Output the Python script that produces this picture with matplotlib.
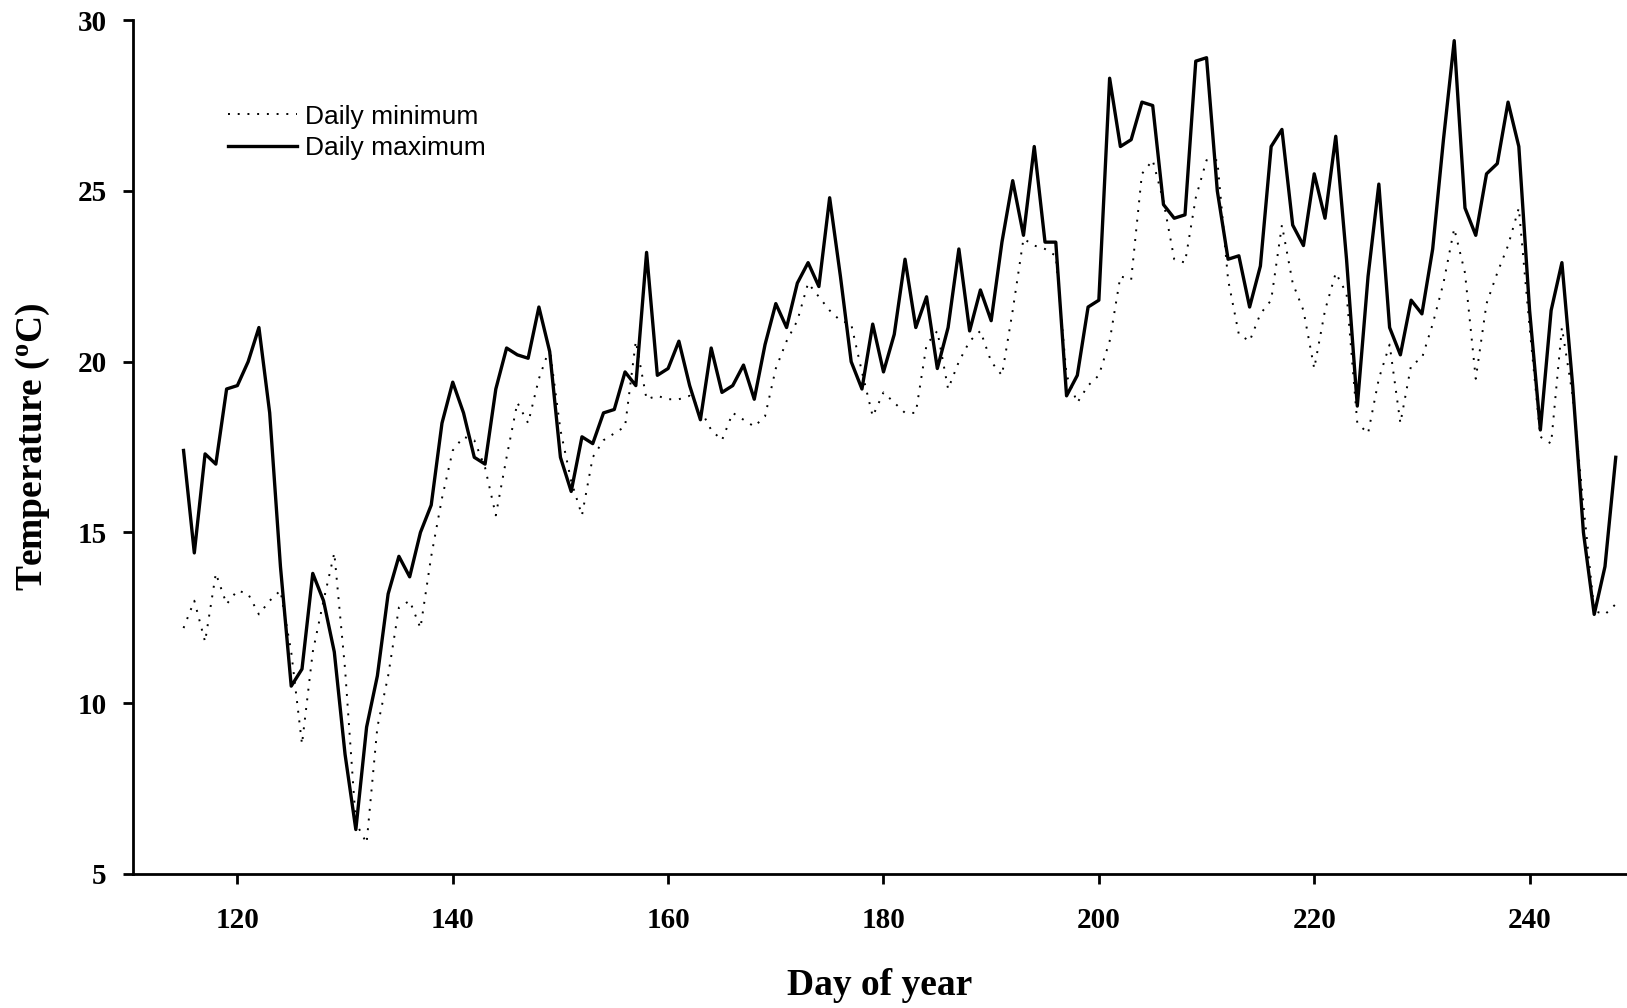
import matplotlib
matplotlib.use("Agg")
import matplotlib.pyplot as plt
import numpy as np

days = list(range(115, 249))

t_max = [17.4, 14.4, 17.3, 17.0, 19.2, 19.3, 20.0, 21.0, 18.5, 14.0,
         10.5, 11.0, 13.8, 13.0, 11.5, 8.5, 6.3, 9.3, 10.8, 13.2,
         14.3, 13.7, 15.0, 15.8, 18.2, 19.4, 18.5, 17.2, 17.0, 19.2,
         20.4, 20.2, 20.1, 21.6, 20.3, 17.2, 16.2, 17.8, 17.6, 18.5,
         18.6, 19.7, 19.3, 23.2, 19.6, 19.8, 20.6, 19.3, 18.3, 20.4,
         19.1, 19.3, 19.9, 18.9, 20.5, 21.7, 21.0, 22.3, 22.9, 22.2,
         24.8, 22.5, 20.0, 19.2, 21.1, 19.7, 20.8, 23.0, 21.0, 21.9,
         19.8, 21.0, 23.3, 20.9, 22.1, 21.2, 23.5, 25.3, 23.7, 26.3,
         23.5, 23.5, 19.0, 19.6, 21.6, 21.8, 28.3, 26.3, 26.5, 27.6,
         27.5, 24.6, 24.2, 24.3, 28.8, 28.9, 25.0, 23.0, 23.1, 21.6,
         22.8, 26.3, 26.8, 24.0, 23.4, 25.5, 24.2, 26.6, 23.0, 18.7,
         22.5, 25.2, 21.0, 20.2, 21.8, 21.4, 23.3, 26.5, 29.4, 24.5,
         23.7, 25.5, 25.8, 27.6, 26.3, 21.5, 18.0, 21.5, 22.9, 19.3,
         15.0, 12.6, 14.0, 17.2]

t_min = [12.2, 13.0, 11.8, 13.8, 12.9, 13.3, 13.2, 12.6, 13.0, 13.3,
         11.5, 8.8, 11.5, 13.0, 14.4, 11.0, 6.5, 5.9, 9.3, 10.8,
         12.8, 13.0, 12.2, 14.3, 16.0, 17.4, 17.8, 17.7, 16.9, 15.5,
         17.2, 18.8, 18.2, 19.5, 20.4, 18.0, 16.5, 15.5, 17.2, 17.7,
         17.9, 18.1, 20.6, 18.9, 19.0, 18.9, 18.9, 19.0, 18.6, 18.0,
         17.7, 18.5, 18.3, 18.1, 18.4, 19.8, 20.6, 21.2, 22.3, 21.9,
         21.5, 21.2, 21.1, 19.7, 18.4, 19.1, 18.8, 18.5, 18.5, 20.5,
         20.9, 19.2, 20.0, 20.6, 20.9, 20.0, 19.6, 21.5, 23.6, 23.4,
         23.3, 23.1, 19.6, 18.8, 19.3, 19.6, 20.6, 22.5, 22.4, 25.5,
         25.9, 24.7, 23.0, 22.9, 24.8, 25.9, 25.9, 22.4, 20.8, 20.6,
         21.4, 21.8, 24.0, 22.3, 21.5, 19.8, 21.5, 22.6, 22.0, 18.2,
         17.9, 19.5, 20.5, 18.2, 19.9, 20.1, 21.1, 22.3, 23.9, 22.6,
         19.5, 21.7, 22.6, 23.4, 24.5, 21.0, 17.8, 17.6, 21.0, 19.0,
         15.8, 12.7, 12.6, 12.9]

x_ticks = [120, 140, 160, 180, 200, 220, 240]
y_ticks = [5, 10, 15, 20, 25, 30]

fig = plt.figure(figsize=(16.27, 10.08), dpi=100)
ax = fig.add_axes([0.0817, 0.133, 0.918, 0.847])

ax.plot(days, t_min, color="black", lw=1.4, linestyle=(0, (1, 4)),
        label="Daily minimum")
ax.plot(days, t_max, color="black", lw=2.4, solid_joinstyle="round",
        label="Daily maximum")

ax.set_xlim(110.3, 249)
ax.set_ylim(5, 30)
ax.set_xticks(x_ticks)
ax.set_yticks(y_ticks)

for s in ["top", "right"]:
    ax.spines[s].set_visible(False)
for s in ["left", "bottom"]:
    ax.spines[s].set_linewidth(2.0)

serif_bold = dict(family="Liberation Serif", weight="bold")
ax.tick_params(axis="both", direction="out", length=7, width=2.0)
ax.tick_params(axis="x", pad=17)
ax.tick_params(axis="y", pad=12)
for lab in ax.get_xticklabels() + ax.get_yticklabels():
    lab.set_fontfamily("Liberation Serif")
    lab.set_fontweight("bold")
    lab.set_fontsize(21)

ax.set_xlabel("Day of year", fontsize=27, labelpad=24, **serif_bold)
ax.set_ylabel("Temperature ($\\mathregular{^o}$C)", fontsize=27,
              labelpad=18, **serif_bold)

leg = ax.legend(loc="upper left", bbox_to_anchor=(0.048, 0.929),
                frameon=False, prop=dict(family="Liberation Sans", size=19),
                handlelength=2.6, handletextpad=0.3, labelspacing=0.3)

fig.savefig("out.png", dpi=100)
